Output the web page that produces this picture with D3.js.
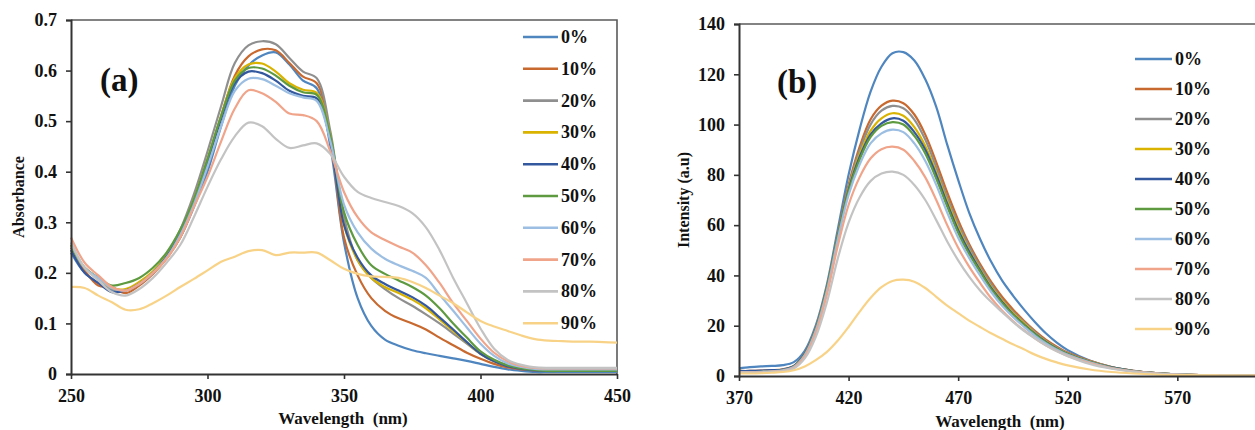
<!DOCTYPE html>
<html>
<head>
<meta charset="utf-8">
<script src="https://cdn.jsdelivr.net/npm/d3@7"></script>
<style>
  html, body { margin: 0; padding: 0; background: #fff; }
  svg text { font-family: "Liberation Serif", "Times New Roman", serif; font-weight: bold; fill: #111; }
</style>
</head>
<body>
<svg id="chart" width="1255" height="430"></svg>
<script>
// ---- shared series labels and colours ----
const seriesNames = ["0%", "10%", "20%", "30%", "40%", "50%", "60%", "70%", "80%", "90%"];
const seriesColors = ["#4F86BF", "#C8692F", "#8F8F8F", "#D9B300", "#34589E",
                      "#5E9A40", "#9CBEE2", "#F0A48A", "#C3C3C3", "#F8D387"];

// ---- (a) UV-Vis absorbance spectra ----
const absWavelength = [250,255,260,265,270,275,280,285,290,295,300,305,310,315,320,325,330,335,340,345,
                       350,355,360,365,370,375,380,385,390,395,400,405,410,415,420,425,430,435,440,445,450];
const abs0  = [.24,.20,.18,.165,.165,.18,.20,.23,.27,.33,.40,.49,.57,.61,.63,.636,.612,.58,.565,.45,
               .26,.15,.095,.068,.056,.047,.041,.036,.031,.026,.02,.014,.009,.006,.004,.004,.004,.004,.004,.004,.004];
const abs10 = [.25,.205,.175,.172,.16,.175,.198,.228,.27,.335,.42,.51,.59,.628,.642,.64,.615,.588,.575,.47,
               .27,.195,.15,.125,.11,.1,.088,.072,.057,.042,.03,.02,.013,.009,.007,.006,.006,.006,.006,.006,.006];
const abs20 = [.25,.21,.19,.168,.165,.18,.20,.235,.285,.355,.44,.53,.615,.65,.658,.652,.625,.598,.585,.48,
               .31,.225,.19,.168,.15,.135,.118,.10,.08,.06,.04,.026,.017,.012,.01,.009,.008,.008,.008,.008,.008];
const abs30 = [.255,.21,.19,.17,.168,.182,.203,.235,.28,.345,.425,.51,.585,.612,.614,.598,.575,.562,.556,.47,
               .295,.225,.19,.172,.16,.147,.13,.108,.085,.062,.04,.025,.016,.011,.008,.007,.007,.007,.007,.007,.007];
const abs40 = [.245,.20,.18,.162,.165,.178,.2,.232,.278,.34,.42,.505,.575,.598,.595,.58,.56,.55,.545,.46,
               .295,.23,.195,.178,.165,.152,.135,.112,.088,.063,.04,.025,.015,.01,.007,.006,.006,.006,.006,.006,.006];
const abs50 = [.255,.21,.19,.175,.18,.19,.21,.24,.285,.345,.425,.51,.58,.605,.604,.59,.57,.557,.552,.47,
               .32,.255,.215,.198,.185,.172,.155,.13,.1,.072,.045,.028,.017,.011,.008,.006,.006,.006,.006,.006,.006];
const abs60 = [.26,.21,.19,.17,.165,.178,.2,.23,.275,.335,.41,.49,.56,.584,.583,.57,.555,.547,.54,.46,
               .335,.28,.248,.228,.215,.204,.19,.157,.125,.092,.06,.036,.021,.014,.01,.009,.009,.009,.009,.009,.009];
const abs70 = [.27,.22,.195,.172,.165,.178,.2,.228,.27,.33,.39,.46,.525,.561,.555,.538,.515,.512,.50,.44,
               .36,.31,.28,.265,.252,.24,.215,.18,.14,.105,.07,.042,.025,.016,.012,.011,.011,.011,.011,.011,.011];
const abs80 = [.26,.21,.185,.162,.155,.168,.19,.22,.255,.31,.37,.425,.47,.497,.49,.465,.447,.452,.456,.435,
               .39,.36,.348,.34,.332,.318,.29,.245,.19,.14,.09,.05,.028,.018,.013,.012,.012,.012,.012,.012,.012];
const abs90 = [.172,.170,.155,.142,.127,.128,.14,.155,.172,.188,.205,.222,.232,.243,.245,.235,.240,.240,.240,.225,
               .208,.198,.193,.192,.190,.182,.170,.155,.140,.122,.105,.094,.085,.076,.069,.066,.065,.064,.064,.063,.062];
const absSeries = [abs0, abs10, abs20, abs30, abs40, abs50, abs60, abs70, abs80, abs90];
const absYTicks = [0, 0.1, 0.2, 0.3, 0.4, 0.5, 0.6, 0.7];
const absXTicks = [250, 300, 350, 400, 450];

// ---- (b) fluorescence emission spectra ----
const emWavelength = [370,375,380,385,390,395,400,405,410,415,420,425,430,435,440,445,450,455,460,465,
                      470,475,480,485,490,495,500,505,510,515,520,530,540,550,560,570,580,590,600,606];
const em0  = [3,3.5,3.8,4,4.3,5.5,10,20,36,58,80,98,113,123,128.4,128.8,125.5,118,107,92,
              78,65,54.5,45.5,38,32,26.5,21.5,17,13.3,10.3,6.2,3.6,2.1,1.2,0.7,0.4,0.3,0.2,0.2];
const em10 = [2,2,2.1,2.3,2.7,4,9,19,35,56,76,91,102,107.5,109.5,108.5,104,96,85,73,
              62,52.5,44.5,37.5,31.5,26.5,22,18,14.5,11.7,9.3,6,3.6,2.1,1.2,0.7,0.4,0.3,0.2,0.2];
const em20 = [1.8,1.8,1.9,2.1,2.5,3.8,8.7,18.5,34.5,55,75,89.5,100,105.5,107.4,106.5,102,94,83,71,
              60.5,51.5,43.5,36.5,30.5,25.5,21.5,17.5,14,11.3,9,5.8,3.5,2,1.2,0.7,0.4,0.3,0.2,0.2];
const em30 = [1.8,1.8,1.9,2.1,2.5,3.8,8.7,18.5,34.5,55,74.5,88,97.5,102.5,104.5,103.5,99,91.5,81,69.5,
              59,50,42.5,35.5,30,25,21,17,13.8,11,8.8,5.7,3.4,2,1.2,0.7,0.4,0.3,0.2,0.2];
const em40 = [2,2,2.1,2.3,2.6,3.9,8.8,18.5,34.5,55,74,87,96,100.5,102.5,101.5,97,90,80,68.5,
              58,49.5,42,35,29.5,24.5,20.5,16.8,13.6,10.9,8.7,5.6,3.4,2,1.2,0.7,0.4,0.3,0.2,0.2];
const em50 = [1.6,1.6,1.7,1.9,2.3,3.7,8.5,18.3,34.3,55,73.5,86,95,99.5,101,100,95.5,88.5,78.5,67.5,
              57,48.5,41.5,34.5,29,24.3,20.3,16.6,13.4,10.8,8.6,5.5,3.3,1.9,1.1,0.7,0.4,0.3,0.2,0.2];
const em60 = [1.6,1.6,1.7,1.9,2.3,3.6,8.3,18,33.5,54,72,84,92.5,96.5,98,97,92.5,85.5,76,65,
              55,47,40,33.5,28,23.5,19.6,16,13,10.5,8.4,5.4,3.2,1.9,1.1,0.7,0.4,0.3,0.2,0.2];
const em70 = [1.5,1.5,1.6,1.8,2.1,3.3,7.8,17,32,51.5,68,79,86.5,90.2,91.2,90,85.5,79,70,60,
              51,43.5,37,31,26,21.8,18.2,15,12.2,9.9,8,5.1,3.1,1.8,1.1,0.6,0.4,0.3,0.2,0.2];
const em80 = [1.4,1.4,1.5,1.7,2,3,7,15.5,29,46.5,61,71,77.5,80.5,81.3,80,76,70,62,53.5,
              46,39.5,34,29.5,25.5,21.5,18,15,12.2,9.8,7.9,4.8,2.9,1.7,1,0.6,0.4,0.3,0.2,0.2];
const em90 = [1,1,1.1,1.3,1.6,2.3,3.8,6.3,9.5,14,19.5,25.5,31,35.3,37.8,38.3,37.5,35,31.5,28,
              25,22,19.5,17,14.8,12.6,10.6,8.5,6.8,5.4,4.2,2.6,1.6,1,0.6,0.4,0.3,0.2,0.2,0.2];
const emSeries = [em0, em10, em20, em30, em40, em50, em60, em70, em80, em90];
const emYTicks = [0, 20, 40, 60, 80, 100, 120, 140];
const emXTicks = [370, 420, 470, 520, 570];

const svg = d3.select("#chart");

function drawPanel(cfg) {
  const { x, y, xTicks, yTicks, yFmt, wl, series, frameRight, label, labelPos,
          yTitle, yTitlePos, xTitlePos, legend, xPad } = cfg;
  const g = svg.append("g");
  const [x0, x1] = x.range();
  const [yb, yt] = y.range();

  // plot frame (top and right edges)
  g.append("path")
    .attr("d", `M${x0},${yt}H${Math.min(x1, frameRight)}` + (x1 <= frameRight ? `V${yb}` : ""))
    .attr("fill", "none").attr("stroke", "#5a5a5a").attr("stroke-width", 1.6);

  // spectra
  const line = d3.line()
    .x((d, i) => x(wl[i]))
    .y(d => y(d))
    .curve(d3.curveCatmullRom.alpha(0.5));
  series.forEach((s, k) => {
    g.append("path")
      .datum(s)
      .attr("d", line)
      .attr("fill", "none")
      .attr("stroke", seriesColors[k])
      .attr("stroke-width", 2.2)
      .attr("stroke-linejoin", "round");
  });

  // axes
  const ya = g.append("g").attr("transform", `translate(${x0},0)`)
    .call(d3.axisLeft(y).tickValues(yTicks).tickSize(5).tickPadding(9).tickFormat(yFmt));
  const xa = g.append("g").attr("transform", `translate(0,${yb})`)
    .call(d3.axisBottom(x).tickValues(xTicks).tickSize(5).tickPadding(xPad).tickFormat(d3.format("d")));
  [ya, xa].forEach(a => {
    a.select(".domain").attr("stroke", "#333").attr("stroke-width", 2);
    a.selectAll(".tick line").attr("stroke", "#333").attr("stroke-width", 1.6);
    a.selectAll(".tick text")
      .style("font-family", '"Liberation Serif", "Times New Roman", serif')
      .style("font-weight", "bold").style("font-size", "18px").attr("fill", "#111");
  });
  xa.select(".domain").attr("d", `M${x0},0.5H${Math.min(x1, 1255)}`);

  // panel label
  g.append("text").attr("x", labelPos[0]).attr("y", labelPos[1])
    .style("font-size", "33px").text(label);

  // axis titles
  g.append("text")
    .attr("transform", `translate(${yTitlePos[0]},${yTitlePos[1]}) rotate(-90)`)
    .attr("text-anchor", "middle").attr("dominant-baseline", "central")
    .style("font-size", "16px").text(yTitle);
  g.append("text").attr("x", xTitlePos[0]).attr("y", xTitlePos[1])
    .attr("text-anchor", "middle").style("font-size", "17px").style("white-space", "pre")
    .text("Wavelength  (nm)");

  // legend
  const lg = g.append("g");
  seriesNames.forEach((n, k) => {
    const ly = legend.y0 + k * legend.dy;
    lg.append("line").attr("x1", legend.x1).attr("x2", legend.x2)
      .attr("y1", ly).attr("y2", ly)
      .attr("stroke", seriesColors[k]).attr("stroke-width", 2.6);
    lg.append("text").attr("x", legend.x2 + 3).attr("y", ly)
      .attr("dominant-baseline", "central").style("font-size", "18px").text(n);
  });
}

drawPanel({
  x: d3.scaleLinear().domain([250, 450]).range([71, 617]),
  y: d3.scaleLinear().domain([0, 0.7]).range([374, 20]),
  xTicks: absXTicks, yTicks: absYTicks,
  yFmt: d => d === 0 ? "0" : d3.format(".1f")(d),
  wl: absWavelength, series: absSeries, frameRight: 617,
  label: "(a)", labelPos: [100, 91],
  yTitle: "Absorbance", yTitlePos: [18, 197],
  xTitlePos: [343, 424], xPad: 10,
  legend: { x1: 523, x2: 558, y0: 37, dy: 31.8 }
});

drawPanel({
  x: d3.scaleLinear().domain([370, 610]).range([739, 1265]),
  y: d3.scaleLinear().domain([0, 140]).range([376, 24]),
  xTicks: emXTicks, yTicks: emYTicks,
  yFmt: d3.format("d"),
  wl: emWavelength, series: emSeries, frameRight: 1255,
  label: "(b)", labelPos: [777, 93],
  yTitle: "Intensity (a.u)", yTitlePos: [683, 200],
  xTitlePos: [1000, 427], xPad: 10,
  legend: { x1: 1135, x2: 1172, y0: 59, dy: 30 }
});
</script>
</body>
</html>
